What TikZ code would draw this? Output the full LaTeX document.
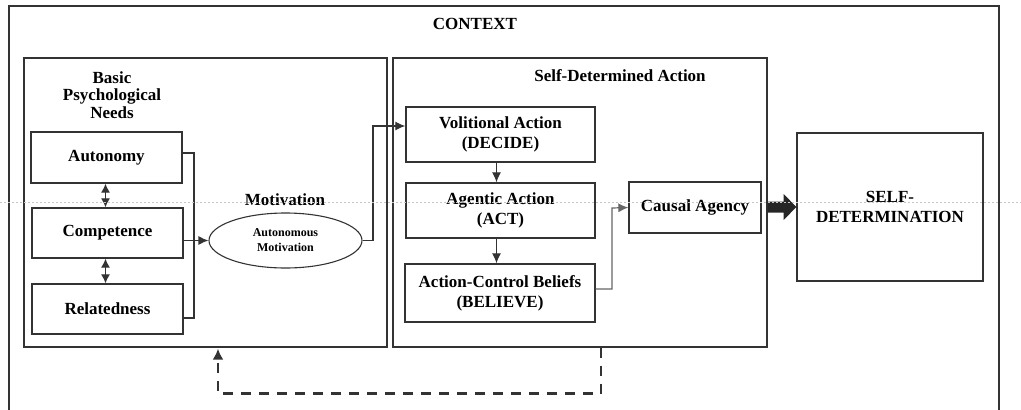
\documentclass[tikz,border=0pt]{standalone}
\usepackage{fontspec}
\setmainfont{Liberation Serif}
\usetikzlibrary{arrows.meta,shapes.geometric,calc}
\definecolor{ln}{HTML}{333333}
\begin{document}
\begin{tikzpicture}[x=1pt,y=-1pt,
  every node/.style={font=\bfseries\fontsize{17}{20}\selectfont, text=black, align=center},
  frame/.style={draw=ln, line width=1.3pt, inner sep=0pt},
  stepbox/.style={draw=ln, line width=1.3pt, inner sep=0pt},
  conn/.style={draw=ln, line width=1.2pt},
  arrowtip/.style={-{Latex[length=10pt,width=9pt]}},
  darrowtip/.style={{Latex[length=9pt,width=9pt]}-{Latex[length=9pt,width=9pt]}}
]
\useasboundingbox (0,0) rectangle (1021,410);
% frames
\node[frame, minimum width=990, minimum height=430] (ctx) at (504,221) {};
\node (ctxl) at (475,24) {CONTEXT};
\node[frame, minimum width=363, minimum height=289] (ltb) at (205.5,202.5) {};
\node[frame, minimum width=374, minimum height=289] (sda) at (580,202.5) {};
\node[font=\bfseries\fontsize{17}{17.5}\selectfont] (bpnl) at (112,95) {Basic\\Psychological\\Needs};
\node (motl) at (285,200) {Motivation};
\node (sdal) at (620,76) {Self-Determined Action};
% boxes
\node[stepbox, minimum width=151, minimum height=51] (aut) at (106.5,157.5) {Autonomy};
\node[stepbox, minimum width=151, minimum height=50] (comp) at (107.5,233) {Competence};
\node[stepbox, minimum width=151, minimum height=50] (rel) at (107.5,309) {Relatedness};
\node[draw=ln, line width=1.1pt, ellipse, minimum width=153, minimum height=55, inner sep=0pt,
      font=\bfseries\fontsize{12}{15}\selectfont] (ell) at (285.5,240.5) {Autonomous\\Motivation};
\node[stepbox, minimum width=189, minimum height=55] (vol) at (500.5,134.5) {Volitional Action\\(DECIDE)};
\node[stepbox, minimum width=189, minimum height=55] (agn) at (500.5,210.5) {Agentic Action\\(ACT)};
\node[stepbox, minimum width=190, minimum height=58] (acb) at (500,293) {Action-Control Beliefs\\(BELIEVE)};
\node[stepbox, minimum width=132, minimum height=51] (cau) at (695,207.5) {Causal Agency};
\node[stepbox, minimum width=186, minimum height=148] (sd) at (890,207) {SELF-\\DETERMINATION};
% connectors
\draw[conn] ([yshift=4.5pt]aut.east) -| (194,318) -- ([yshift=-9pt]rel.east);
\draw[conn, darrowtip] ([xshift=-1pt]aut.south) -- ([xshift=-1pt]aut.south |- comp.north);
\draw[conn, darrowtip] ([xshift=-2pt]comp.south) -- ([xshift=-2pt]rel.north);
\draw[conn, arrowtip] (comp.east |- ell.west) -- (ell.west);
\draw[conn, arrowtip] (ell.east) -| (373,126) -- ([yshift=8.5pt]vol.west);
\draw[conn, arrowtip] ([xshift=-4pt]vol.south) -- ([xshift=-4pt]agn.north);
\draw[conn, arrowtip] ([xshift=-4pt]agn.south) -- ([xshift=-4pt]agn.south |- acb.north);
\draw[draw=gray!80!black, line width=1.2pt, arrowtip] ([yshift=4pt]acb.east) -| (612,208) -- (cau.west);
\coordinate (ta) at (sda.east |- sd.west);
\fill[black!85] ($(ta)+(0,-5.5)$) -- ++(16,0) -- ++(0,-7.5) -- (sd.west) -- ($(ta)+(16,13)$) -- ++(0,-7.5) -- ($(ta)+(0,5.5)$) -- cycle;
\draw[ln, line width=2.8pt, dash pattern=on 10pt off 8pt, -{Latex[length=11pt,width=11pt]}]
  ([xshift=21pt]sda.south) -- ++(0,46) -| ([xshift=12.5pt, yshift=-1pt]ltb.south);
% faint dotted guide line
\draw[gray!45, line width=0.6pt, dash pattern=on 2pt off 2pt] (0,202) -- (1021,202);
\end{tikzpicture}
\end{document}
